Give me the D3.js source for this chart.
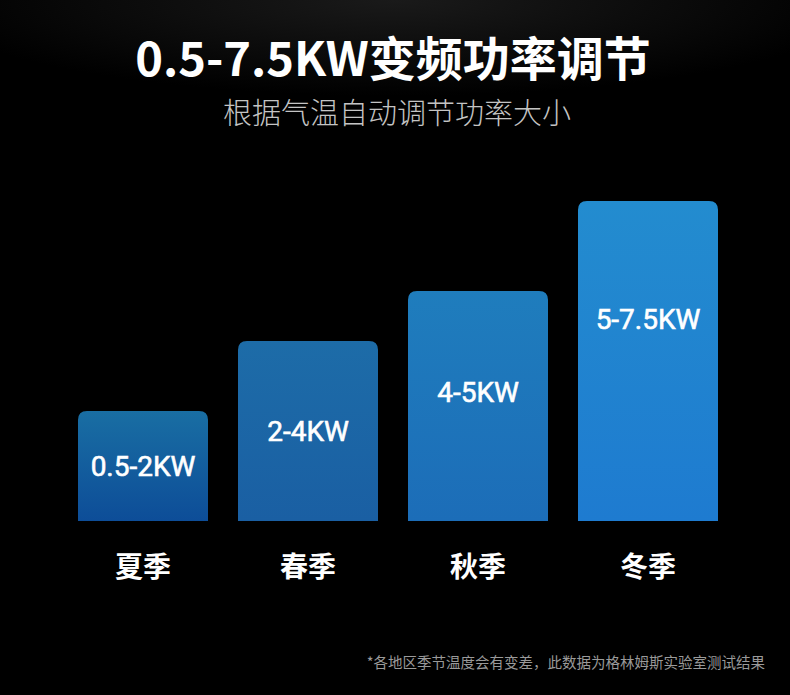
<!DOCTYPE html>
<html>
<head>
<meta charset="utf-8">
<script src="https://cdn.jsdelivr.net/npm/d3@7"></script>
<style>
	html, body { margin: 0; padding: 0; background: #000; }
	svg { display: block; }
</style>
</head>
<body>
<svg id="chart"></svg>
<script>
// seasons and their power ranges
const seasons = ["夏季", "春季", "秋季", "冬季"]
const powerLabels = ["0.5-2KW", "2-4KW", "4-5KW", "5-7.5KW"]
// relative bar height (not proportional to kW)
const barLevel = [11, 18, 23, 32]
const colorTop = ["#196ea3", "#1d6ca8", "#1f7dbd", "#238ccf"]
const colorBottom = ["#0d4d98", "#1a5fa3", "#1c6db8", "#1e7bd0"]

const title = "0.5-7.5KW变频功率调节"
const subtitle = "根据气温自动调节功率大小"
const footnote = "*各地区季节温度会有变差，此数据为格林姆斯实验室测试结果"

const width = 790
const height = 695
const baseY = 521
const cjk = "'Noto Sans CJK SC', 'Noto Sans', sans-serif"

const svg = d3.select("svg#chart")
	.attr("width", width)
	.attr("height", height)

svg.append("rect")
	.attr("width", width)
	.attr("height", height)
	.attr("fill", "#000")

// faint glow at the top
const defs = svg.append("defs")
const glow = defs.append("radialGradient")
	.attr("id", "glow")
	.attr("cx", "50%").attr("cy", "0%").attr("r", "60%")
glow.append("stop").attr("offset", "0%").attr("stop-color", "#1a1a1a")
glow.append("stop").attr("offset", "100%").attr("stop-color", "#000")
svg.append("rect")
	.attr("width", width)
	.attr("height", 160)
	.attr("fill", "url(#glow)")

// step 170, bar 140, gap 30
const x = d3.scaleBand()
	.domain(seasons)
	.range([68, 718])
	.paddingInner(30 / 170)
	.paddingOuter(0)

const y = d3.scaleLinear()
	.domain([0, 32])
	.range([baseY, 201])

const data = seasons.map((s, i) => ({
	season: s,
	label: powerLabels[i],
	level: barLevel[i],
	top: colorTop[i],
	bottom: colorBottom[i],
	// the first bar is drawn a bit narrower in the original
	inset: i === 0 ? 10 : 0
}))

data.forEach((d, i) => {
	const g = defs.append("linearGradient")
		.attr("id", "bar" + i)
		.attr("x1", 0).attr("y1", 0).attr("x2", 0).attr("y2", 1)
	g.append("stop").attr("offset", "0%").attr("stop-color", d.top)
	g.append("stop").attr("offset", "100%").attr("stop-color", d.bottom)
})

// rounded top corners, square bottom
function barPath(x0, y0, w, h, r) {
	return `M${x0},${y0 + h}V${y0 + r}Q${x0},${y0} ${x0 + r},${y0}` +
		`H${x0 + w - r}Q${x0 + w},${y0} ${x0 + w},${y0 + r}V${y0 + h}Z`
}

const bars = svg.append("g")

bars.selectAll("path")
	.data(data)
	.join("path")
	.attr("fill", (d, i) => `url(#bar${i})`)
	.attr("d", d => {
		const x0 = x(d.season) + d.inset
		const top = y(d.level)
		return barPath(x0, top, x.bandwidth() - d.inset, baseY - top, 9)
	})

bars.selectAll("text.value")
	.data(data)
	.join("text")
	.attr("class", "value")
	.attr("x", d => x(d.season) + (x.bandwidth() + d.inset) / 2)
	.attr("y", d => {
		const h = baseY - y(d.level)
		return y(d.level) + Math.min(h / 2, 60 + h * 0.18)
	})
	.attr("dy", "0.36em")
	.attr("text-anchor", "middle")
	.attr("fill", "#fff")
	.attr("stroke", "#fff")
	.attr("stroke-width", 0.6)
	.style("font-family", "Roboto, 'DejaVu Sans', sans-serif")
	.style("font-weight", 400)
	.style("font-size", "28px")
	.text(d => d.label)

// category axis, no line and no ticks
const xAxis = svg.append("g")
	.attr("transform", `translate(0,${baseY})`)
	.call(d3.axisBottom(x).tickSize(0).tickPadding(0))
xAxis.select(".domain").remove()
xAxis.selectAll(".tick text")
	.attr("y", 56)
	.attr("dy", 0)
	.attr("fill", "#fff")
	.style("font-family", cjk)
	.style("font-weight", 700)
	.style("font-size", "28px")
xAxis.selectAll(".tick")
	.attr("transform", (d, i) => `translate(${x(d) + (x.bandwidth() + data[i].inset) / 2},0)`)

svg.append("text")
	.attr("x", width / 2 - 2)
	.attr("y", 76)
	.attr("text-anchor", "middle")
	.attr("fill", "#fff")
	.style("font-family", cjk)
	.style("font-weight", 700)
	.style("font-size", "47px")
	.text(title)

svg.append("text")
	.attr("x", width / 2 + 2)
	.attr("y", 124)
	.attr("text-anchor", "middle")
	.attr("fill", "#c4c4c4")
	.style("font-family", cjk)
	.style("font-weight", 300)
	.style("font-size", "29px")
	.text(subtitle)

svg.append("text")
	.attr("x", 765)
	.attr("y", 668)
	.attr("text-anchor", "end")
	.attr("fill", "#9a9a9a")
	.style("font-family", cjk)
	.style("font-size", "14.5px")
	.text(footnote)
</script>
</body>
</html>
